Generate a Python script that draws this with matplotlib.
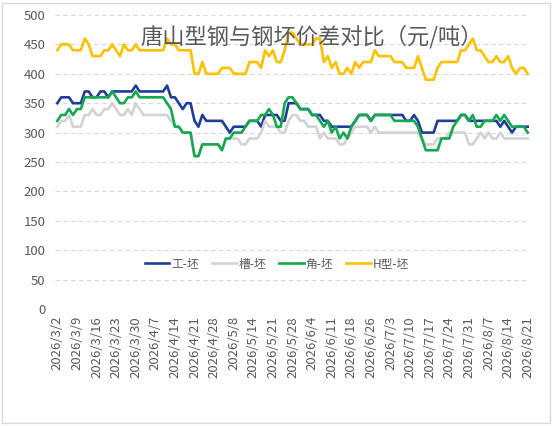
import pandas as pd
import matplotlib
matplotlib.use('Agg')
import matplotlib.pyplot as plt
from matplotlib.patches import Rectangle

plt.rcParams['font.family'] = ['Noto Sans CJK SC', 'DejaVu Sans']

# trading days 2026/3/2 - 2026/8/21 (holidays out, 5/9 make-up day in)
holidays = ['2026-04-06', '2026-05-01', '2026-05-04', '2026-05-05', '2026-06-19']
extra_days = ['2026-05-09']
days = pd.bdate_range('2026-03-02', '2026-08-21')
days = days.drop(pd.to_datetime(holidays)).union(pd.to_datetime(extra_days))
dates = [f'{d.year}/{d.month}/{d.day}' for d in days]

series_names = ['工-坯', '槽-坯', '角-坯', 'H型-坯']

gong = [350, 360, 360, 360, 350, 350, 350, 370, 370, 360,
        360, 370, 370, 360, 370, 370, 370, 370, 370, 370,
        380, 370, 370, 370, 370, 370, 370, 370, 380, 360,
        360, 350, 340, 350, 350, 320, 310, 330, 320, 320,
        320, 320, 320, 310, 300, 310, 310, 310, 310, 320,
        320, 320, 310, 330, 330, 330, 330, 320, 320, 350,
        350, 350, 340, 340, 340, 330, 330, 330, 320, 320,
        310, 310, 310, 310, 310, 310, 320, 330, 330, 330,
        320, 330, 330, 330, 330, 330, 330, 330, 330, 320,
        320, 330, 320, 300, 300, 300, 300, 320, 320, 320,
        320, 320, 320, 330, 330, 320, 320, 320, 320, 320,
        320, 320, 320, 310, 320, 310, 300, 310, 310, 310,
        310]

cao = [310, 320, 320, 330, 310, 310, 310, 330, 330, 340,
       330, 330, 340, 340, 350, 340, 330, 330, 340, 330,
       350, 340, 330, 330, 330, 330, 330, 330, 330, 320,
       310, 310, 300, 300, 300, 260, 260, 280, 280, 280,
       280, 280, 270, 290, 290, 290, 290, 280, 280, 290,
       290, 290, 300, 320, 310, 310, 310, 300, 300, 320,
       330, 330, 320, 320, 310, 310, 310, 290, 300, 290,
       290, 290, 280, 280, 290, 300, 310, 310, 310, 310,
       300, 310, 300, 300, 300, 300, 300, 300, 300, 300,
       300, 300, 300, 290, 280, 280, 280, 290, 290, 290,
       300, 300, 300, 300, 300, 280, 280, 290, 300, 290,
       300, 290, 290, 300, 290, 290, 290, 290, 290, 290,
       290]

jiao = [320, 330, 330, 340, 330, 340, 340, 360, 360, 360,
        360, 360, 360, 360, 370, 360, 350, 350, 360, 360,
        370, 360, 360, 360, 360, 360, 360, 360, 350, 340,
        310, 310, 300, 300, 300, 260, 260, 280, 280, 280,
        280, 280, 270, 290, 290, 300, 300, 300, 310, 320,
        320, 320, 330, 330, 340, 330, 310, 310, 350, 360,
        360, 350, 340, 340, 340, 330, 330, 320, 310, 320,
        300, 310, 290, 300, 290, 310, 320, 330, 330, 330,
        320, 330, 330, 330, 330, 330, 320, 320, 320, 320,
        320, 320, 310, 290, 270, 270, 270, 270, 290, 290,
        290, 310, 320, 330, 330, 320, 330, 310, 310, 320,
        320, 320, 330, 320, 330, 320, 310, 310, 310, 310,
        300]

hxing = [440, 450, 450, 450, 440, 440, 440, 460, 450, 430,
         430, 430, 440, 440, 450, 440, 430, 450, 440, 440,
         450, 440, 440, 440, 440, 440, 440, 440, 460, 450,
         450, 440, 440, 440, 440, 400, 400, 420, 400, 400,
         400, 400, 410, 410, 410, 400, 400, 400, 400, 420,
         420, 420, 410, 440, 430, 440, 420, 420, 440, 470,
         470, 460, 450, 450, 450, 450, 460, 460, 420, 430,
         410, 420, 400, 400, 410, 400, 420, 410, 420, 420,
         420, 440, 430, 430, 430, 430, 420, 420, 420, 410,
         410, 410, 430, 410, 390, 390, 390, 410, 420, 420,
         420, 420, 420, 440, 440, 450, 460, 440, 440, 430,
         420, 420, 430, 420, 420, 430, 410, 400, 410, 410,
         400]

colors = ['#1F3E9C', '#D3D3D3', '#14A850', '#FFC000']

fig = plt.figure(figsize=(5.54, 4.26), dpi=100)
fig.patches.append(Rectangle((0.004, 0.007), 0.988, 0.986, transform=fig.transFigure,
                             fill=False, edgecolor='#D9D9D9', linewidth=1))
ax = fig.add_axes([0.0999, 0.2746, 0.8562, 0.6902])

x = list(range(len(dates)))
for vals, name, c in zip([gong, cao, jiao, hxing], series_names, colors):
    ax.plot(x, vals, color=c, linewidth=1.9, label=name, solid_joinstyle='round')

ax.set_xlim(-0.5, len(dates) - 0.5)
ax.set_ylim(0, 500)
ax.set_yticks(range(0, 501, 50))
ax.set_xticks(x[::5])
ax.set_xticklabels(dates[::5], rotation=90)
ax.tick_params(axis='both', length=0, labelsize=9.5, labelcolor='#595959')
ax.tick_params(axis='y', pad=7)
ax.tick_params(axis='x', pad=5)
ax.grid(axis='y', color='#D9D9D9', linestyle=(0, (4, 3)), linewidth=0.8)
ax.set_axisbelow(True)
for s in ax.spines.values():
    s.set_visible(False)

ax.set_title('唐山型钢与钢坯价差对比（元/吨）', fontsize=16, color='#595959',
             y=0.875, x=0.54)
ax.legend(loc='center', bbox_to_anchor=(0.467, 0.153), ncol=4, frameon=False,
          fontsize=8.5, handlelength=2.1, handletextpad=0.15, columnspacing=1.1,
          labelcolor='#595959')

fig.savefig('out.png', dpi=100)
